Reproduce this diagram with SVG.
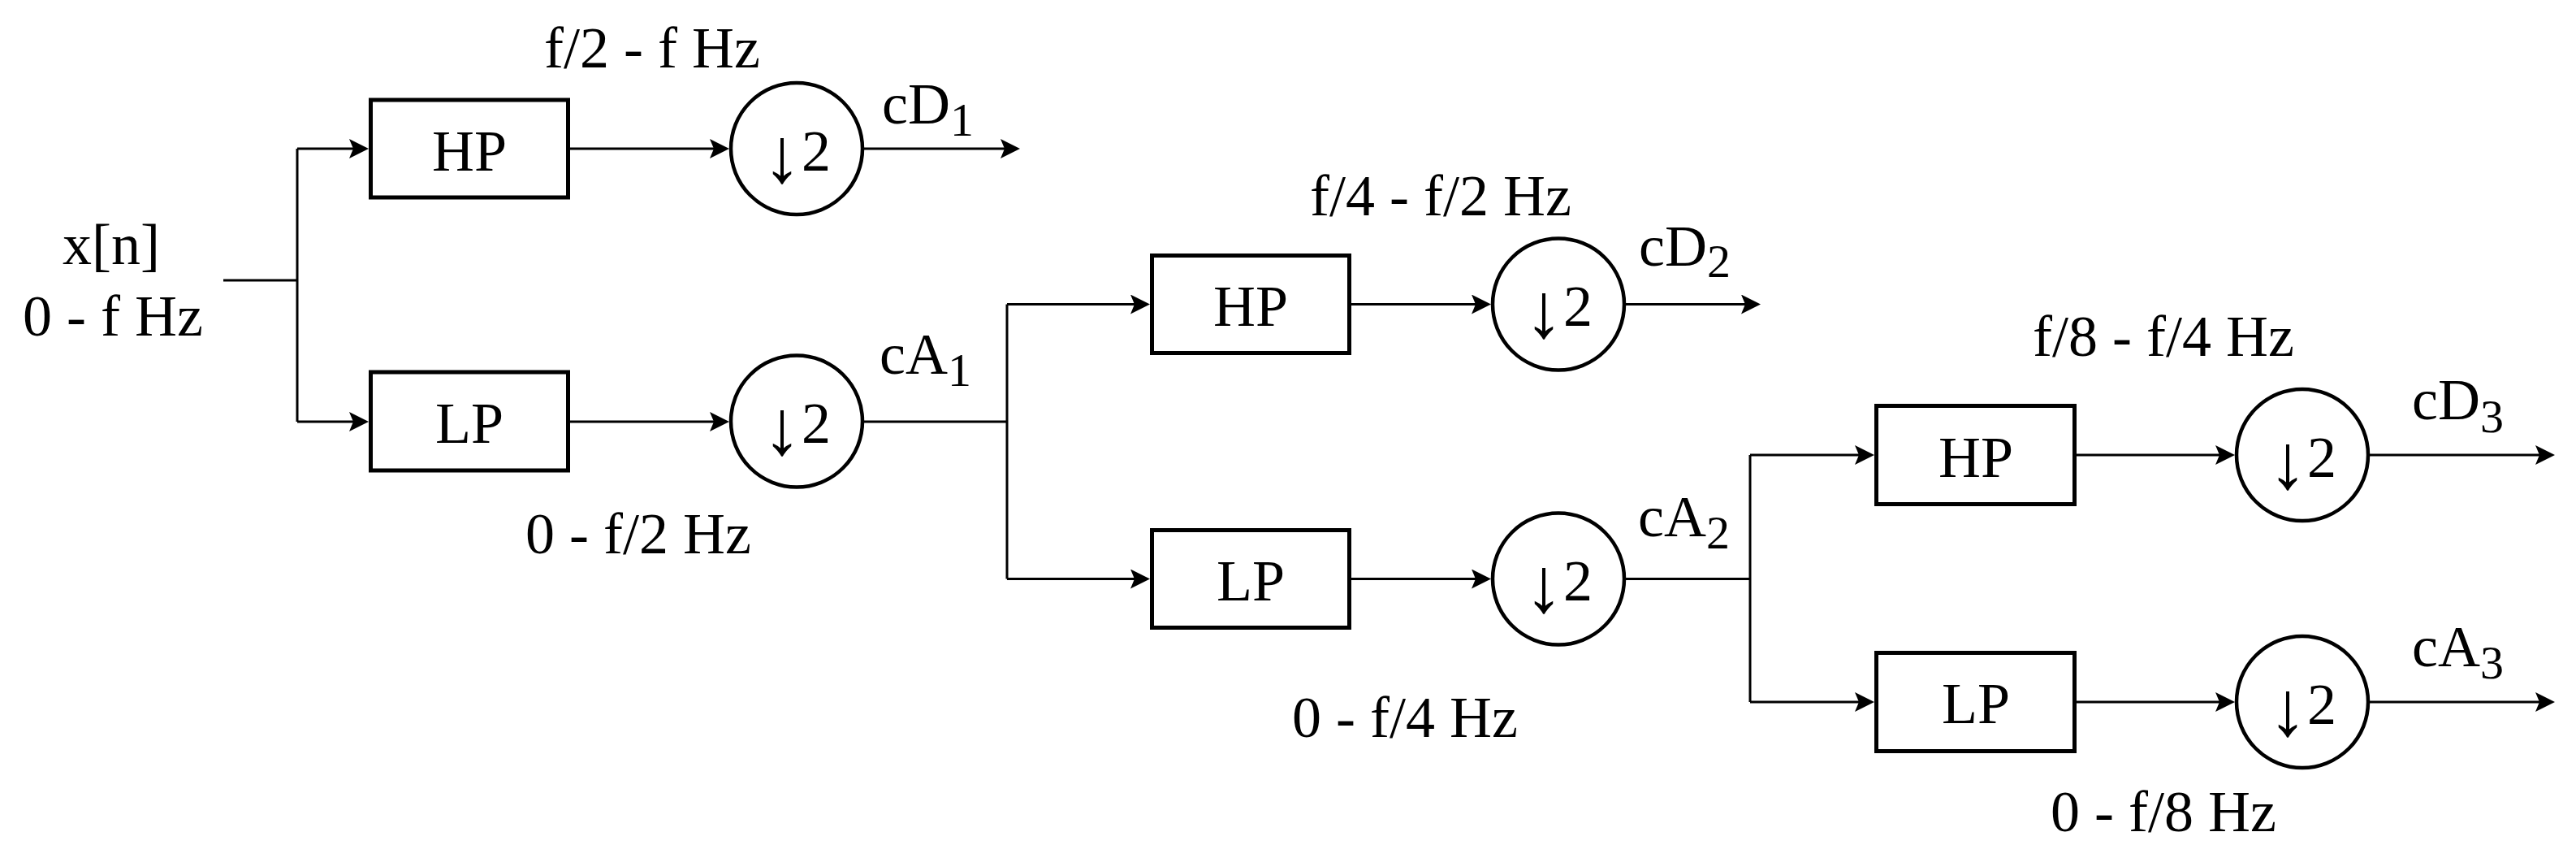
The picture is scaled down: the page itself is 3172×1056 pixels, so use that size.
<svg xmlns="http://www.w3.org/2000/svg" width="3172" height="1056" viewBox="0 0 3172 1056">
<style>
  .box { fill: #ffffff; stroke: #000000; stroke-width: 5; }
  .ds { fill: #ffffff; stroke: #000000; stroke-width: 4.5; }
  .wire { fill: none; stroke: #000000; stroke-width: 3; }
  .arr { fill: none; stroke: #000000; stroke-width: 3; marker-end: url(#ah); }
  text { font-family: "Liberation Serif", "Times New Roman", serif; fill: #000000; }
  .t72 { font-size: 72px; }
  .mid { text-anchor: middle; }
  .sub { font-size: 58px; }
  .dn { font-size: 96px; }
</style>
<defs>
  <marker id="ah" markerUnits="userSpaceOnUse" markerWidth="26" markerHeight="26" refX="14" refY="12" orient="auto">
    <path d="M0,0 L24,12 L0,24 L5,12 Z" fill="#000000"/>
  </marker>
</defs>
<rect x="0" y="0" width="3172" height="1056" fill="#ffffff"/>

<g id="connectors">
  <path class="wire" d="M275,345 H366 M366,183 V519"/>
  <path class="arr" d="M366,183 H444"/>
  <path class="arr" d="M366,519 H444"/>
  <path class="arr" d="M701,183 H888"/>
  <path class="arr" d="M701,519 H888"/>
  <path class="arr" d="M1062,183 H1246"/>
  <path class="wire" d="M1062,519 H1240 M1240,374.5 V712.5"/>
  <path class="arr" d="M1240,374.5 H1406"/>
  <path class="arr" d="M1240,712.5 H1406"/>
  <path class="arr" d="M1664,374.5 H1826"/>
  <path class="arr" d="M1664,712.5 H1826"/>
  <path class="arr" d="M2000,374.5 H2158"/>
  <path class="wire" d="M2000,712.5 H2155 M2155,560 V864"/>
  <path class="arr" d="M2155,560 H2298"/>
  <path class="arr" d="M2155,864 H2298"/>
  <path class="arr" d="M2557,560 H2742"/>
  <path class="arr" d="M2557,864 H2742"/>
  <path class="arr" d="M2916,560 H3136"/>
  <path class="arr" d="M2916,864 H3136"/>
</g>

<g id="input-label">
  <text class="t72 mid" x="137" y="325">x[n]</text>
  <text class="t72 mid" x="139" y="413">0 - f Hz</text>
</g>

<g id="hp1"><rect class="box" x="456.5" y="123" width="243" height="120"/><text class="t72 mid" x="578" y="210">HP</text></g>
<g id="lp1"><rect class="box" x="456.5" y="458" width="243" height="121"/><text class="t72 mid" x="578" y="545">LP</text></g>
<g id="ds1"><circle class="ds" cx="981" cy="183" r="81"/><text class="t72 mid" x="981" y="210"><tspan class="dn" dy="14">↓</tspan><tspan dy="-14">2</tspan></text></g>
<g id="ds2"><circle class="ds" cx="981" cy="518.5" r="81"/><text class="t72 mid" x="981" y="545"><tspan class="dn" dy="14">↓</tspan><tspan dy="-14">2</tspan></text></g>

<g id="hp2"><rect class="box" x="1418.5" y="314.5" width="243" height="120"/><text class="t72 mid" x="1540" y="401">HP</text></g>
<g id="lp2"><rect class="box" x="1418.5" y="652.5" width="243" height="120"/><text class="t72 mid" x="1540" y="739">LP</text></g>
<g id="ds3"><circle class="ds" cx="1919" cy="374.5" r="81"/><text class="t72 mid" x="1919" y="401"><tspan class="dn" dy="14">↓</tspan><tspan dy="-14">2</tspan></text></g>
<g id="ds4"><circle class="ds" cx="1919" cy="712.5" r="81"/><text class="t72 mid" x="1919" y="739"><tspan class="dn" dy="14">↓</tspan><tspan dy="-14">2</tspan></text></g>

<g id="hp3"><rect class="box" x="2310.5" y="499.5" width="244" height="121"/><text class="t72 mid" x="2433" y="587">HP</text></g>
<g id="lp3"><rect class="box" x="2310.5" y="803.5" width="244" height="121"/><text class="t72 mid" x="2433" y="890">LP</text></g>
<g id="ds5"><circle class="ds" cx="2835" cy="560" r="81"/><text class="t72 mid" x="2835" y="587"><tspan class="dn" dy="14">↓</tspan><tspan dy="-14">2</tspan></text></g>
<g id="ds6"><circle class="ds" cx="2835" cy="864" r="81"/><text class="t72 mid" x="2835" y="891"><tspan class="dn" dy="14">↓</tspan><tspan dy="-14">2</tspan></text></g>

<g id="band-labels">
  <text class="t72" x="670" y="83">f/2 - f Hz</text>
  <text class="t72" x="647" y="681">0 - f/2 Hz</text>
  <text class="t72" x="1613" y="265">f/4 - f/2 Hz</text>
  <text class="t72" x="1591" y="907">0 - f/4 Hz</text>
  <text class="t72" x="2503" y="438">f/8 - f/4 Hz</text>
  <text class="t72" x="2525" y="1023">0 - f/8 Hz</text>
</g>

<g id="coef-labels">
  <text class="t72" x="1086" y="152">cD<tspan class="sub" dy="15">1</tspan></text>
  <text class="t72" x="1083" y="460">cA<tspan class="sub" dy="15">1</tspan></text>
  <text class="t72" x="2018" y="327">cD<tspan class="sub" dy="14">2</tspan></text>
  <text class="t72" x="2017" y="660">cA<tspan class="sub" dy="15">2</tspan></text>
  <text class="t72" x="2970" y="516">cD<tspan class="sub" dy="16">3</tspan></text>
  <text class="t72" x="2970" y="820">cA<tspan class="sub" dy="15">3</tspan></text>
</g>
</svg>
